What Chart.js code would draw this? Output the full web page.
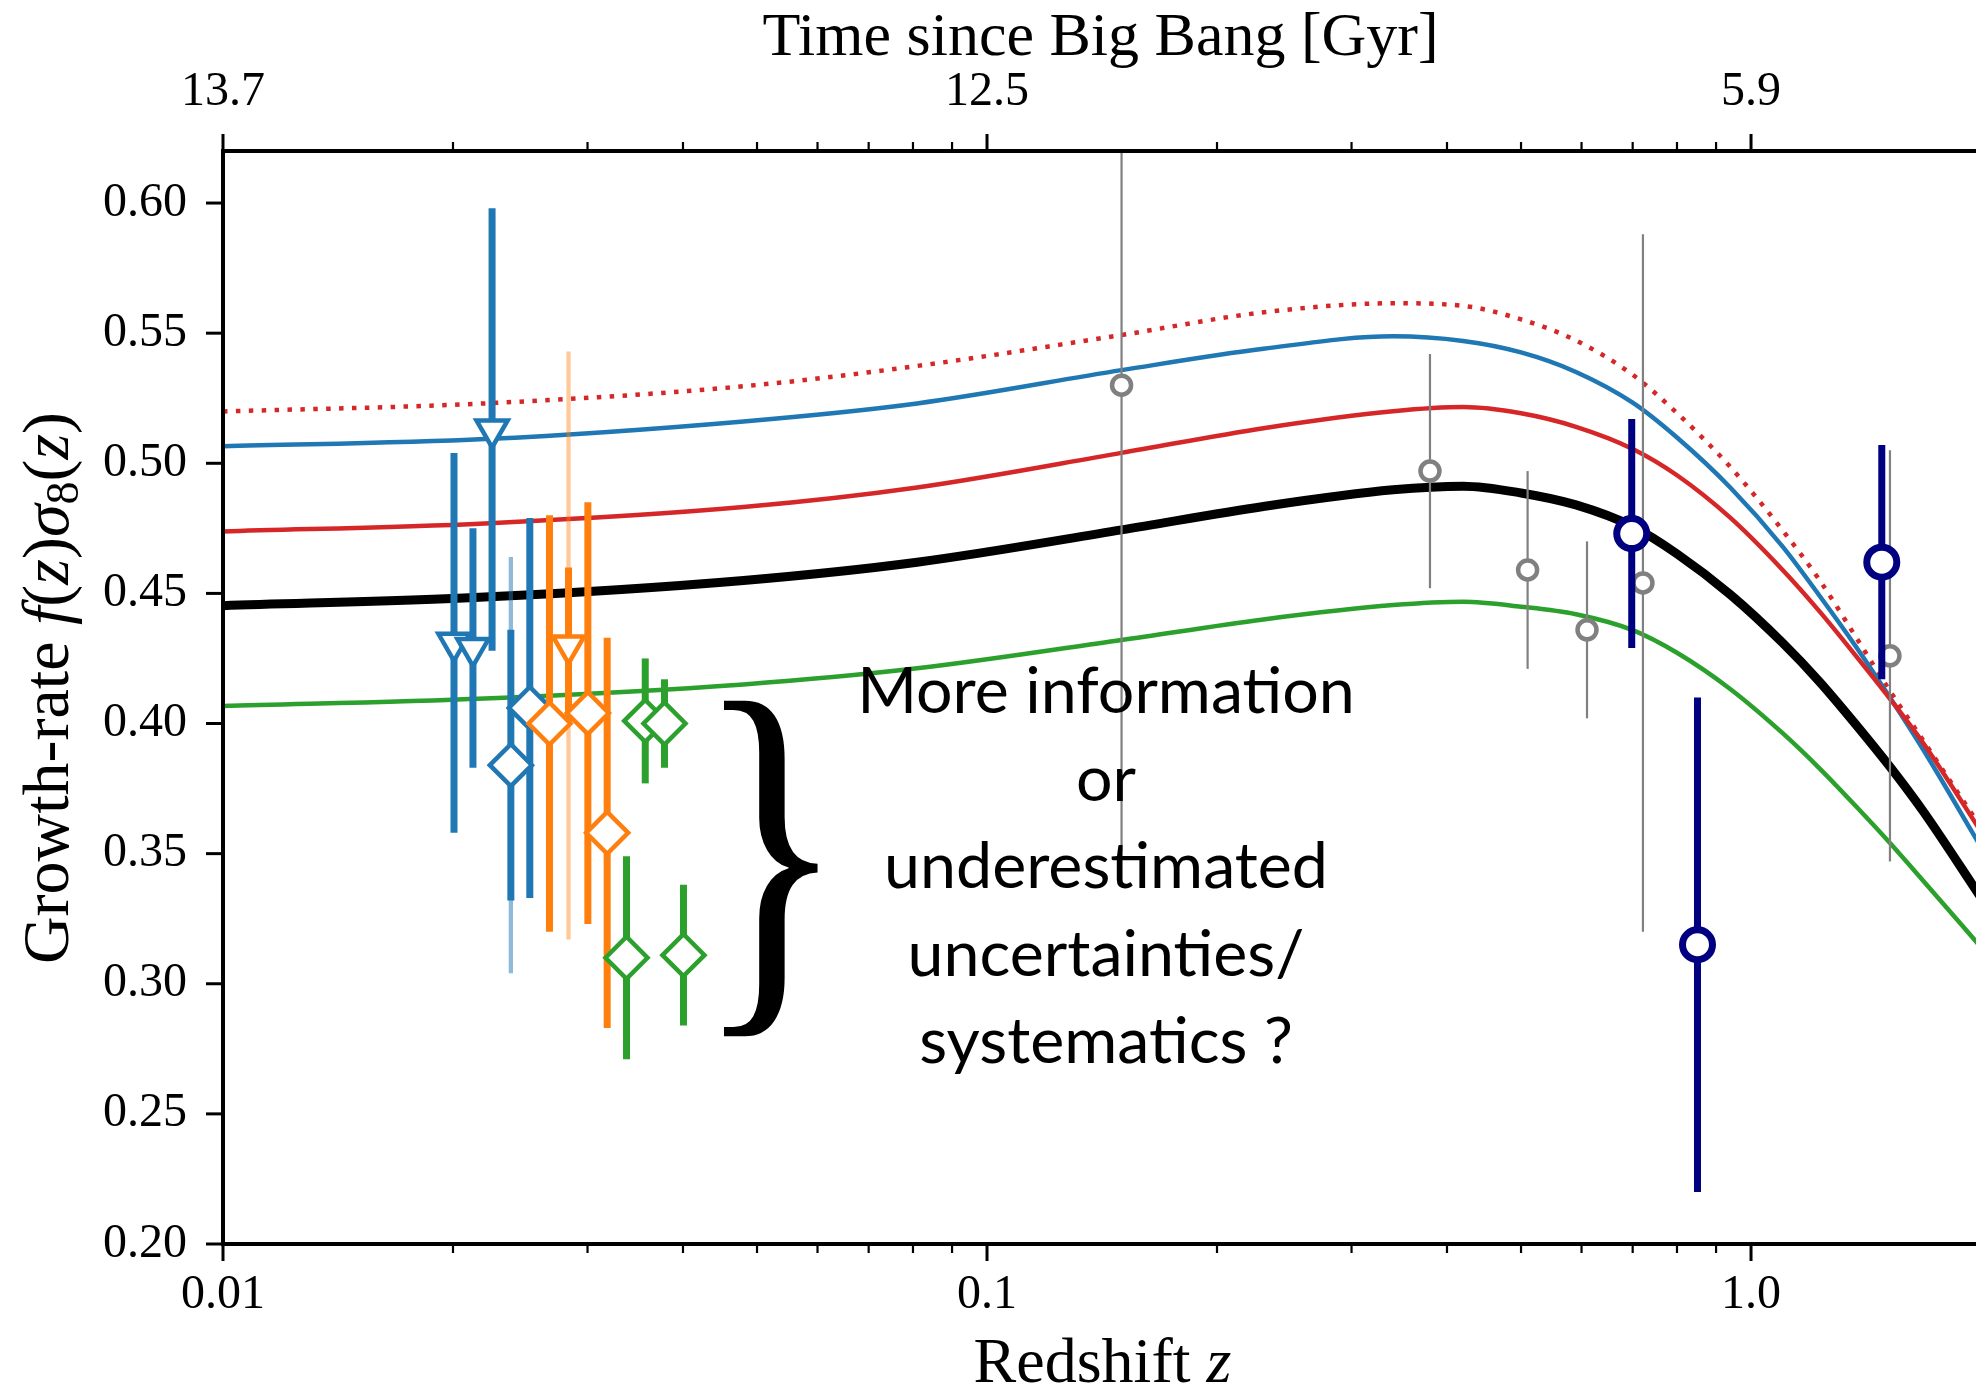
<!DOCTYPE html>
<html>
<head>
<meta charset="utf-8">
<script src="https://cdn.jsdelivr.net/npm/chart.js@4.4.1/dist/chart.umd.min.js"></script>
<style>
html,body{margin:0;padding:0;background:#fff;overflow:hidden}
#wrap{width:1976px;height:1389px;position:relative}
canvas{display:block}
</style>
</head>
<body>
<div id="wrap"><canvas id="c" width="1976" height="1389"></canvas></div>
<script>
// ---------------- data ----------------
// theory curves f(z)sigma8(z)
const zCurve      = [0.01, 0.022, 0.048, 0.081, 0.15, 0.23, 0.34, 0.42, 0.50, 0.59, 0.70, 0.80, 0.94, 1.1, 1.23, 1.37, 1.52, 1.68, 2.0];
const curveDotted = [0.5199, 0.5230, 0.5296, 0.5374, 0.5493, 0.5580, 0.5615, 0.5605, 0.5553, 0.5472, 0.5340, 0.5193, 0.4985, 0.4742, 0.4550, 0.4335, 0.4125, 0.3935, 0.3600];
const curveBlue   = [0.5065, 0.5093, 0.5161, 0.5230, 0.5358, 0.5440, 0.5488, 0.5470, 0.5426, 0.5351, 0.5233, 0.5099, 0.4906, 0.4680, 0.4490, 0.4298, 0.4100, 0.3900, 0.3525];
const curveRed    = [0.4738, 0.4769, 0.4832, 0.4907, 0.5040, 0.5135, 0.5200, 0.5216, 0.5192, 0.5140, 0.5055, 0.4954, 0.4790, 0.4590, 0.4430, 0.4262, 0.4095, 0.3925, 0.3585];
const curveBlack  = [0.4453, 0.4486, 0.4550, 0.4620, 0.4744, 0.4834, 0.4898, 0.4912, 0.4886, 0.4840, 0.4757, 0.4652, 0.4495, 0.4310, 0.4160, 0.3998, 0.3834, 0.3663, 0.3331];
const curveGreen  = [0.4067, 0.4096, 0.4150, 0.4212, 0.4321, 0.4400, 0.4455, 0.4468, 0.4449, 0.4420, 0.4359, 0.4272, 0.4132, 0.3963, 0.3827, 0.3684, 0.3541, 0.3396, 0.3140];

// measurements
const blueTriZ   = [0.02006, 0.02124, 0.0225];
const blueTriV   = [0.431, 0.429, 0.513];
const blueTriE   = [0.073, 0.046, 0.085];

const blueDiaZ   = [0.02381, 0.02521];
const blueDiaV   = [0.384, 0.406];
const blueDiaE   = [0.052, 0.073];
const blueDiaE2  = [0.080, null];

const orangeTriZ  = [0.02833];
const orangeTriV  = [0.430];
const orangeTriE  = [0.030];
const orangeTriE2 = [0.113];

const orangeDiaZ = [0.02675, 0.03003, 0.03183];
const orangeDiaV = [0.400, 0.404, 0.358];
const orangeDiaE = [0.080, 0.081, 0.075];

const greenDiaZ  = [0.03374, 0.0357, 0.03783, 0.04006];
const greenDiaV  = [0.310, 0.401, 0.400, 0.311];
const greenDiaE  = [0.039, 0.024, 0.017, 0.027];

const grayZ = [0.150, 0.380, 0.510, 0.610, 0.722, 1.520];
const grayV = [0.530, 0.497, 0.459, 0.436, 0.454, 0.426];
const grayE = [0.179, 0.045, 0.038, 0.034, 0.134, 0.079];

const navyZ = [0.698, 0.851, 1.483];
const navyV = [0.473, 0.315, 0.462];
const navyE = [0.044, 0.095, 0.045];

// ticks
const xMajor      = [0.01, 0.1, 1.0];
const xMajorLabel = ['0.01', '0.1', '1.0'];
const topLabel    = ['13.7', '12.5', '5.9'];
const xMinor      = [0.02, 0.03, 0.04, 0.05, 0.06, 0.07, 0.08, 0.09, 0.2, 0.3, 0.4, 0.5, 0.6, 0.7, 0.8, 0.9];
const yTicks      = [0.20, 0.25, 0.30, 0.35, 0.40, 0.45, 0.50, 0.55, 0.60];
const yLabels     = ['0.20', '0.25', '0.30', '0.35', '0.40', '0.45', '0.50', '0.55', '0.60'];

const annotLines = ['More information', 'or', 'underestimated', 'uncertainties/', 'systematics ?'];

// ---------------- helpers ----------------
const pts = (zs, vs) => zs.map((z, i) => ({x: z, y: vs[i]}));
const C = {blue:'#1f77b4', orange:'#ff7f0e', green:'#2ca02c', red:'#d62728', gray:'#808080', navy:'#000080'};
const SERIF = '"Liberation Serif", "Times New Roman", serif';

function curve(vals, color, width, dash, order) {
  return {type:'line', data: pts(zCurve, vals), borderColor: color, borderWidth: width,
          borderDash: dash || [], borderCapStyle: 'butt', pointRadius: 0, fill: false,
          cubicInterpolationMode: 'monotone', order: order};
}
function marks(zs, vs, es, color, style, radius, bw, errW, order, extra) {
  return Object.assign({type:'scatter', data: pts(zs, vs), errs: es, errWidth: errW,
          borderColor: color, backgroundColor: '#ffffff', pointStyle: style, pointRadius: radius,
          pointBorderWidth: bw, borderWidth: bw, order: order, clip: false}, extra || {});
}

const allXTicks = xMajor.concat(xMinor).sort((a, b) => a - b);

const errPlugin = {
  id: 'errbars',
  beforeDatasetDraw(chart, args) {
    const ds = chart.data.datasets[args.index];
    if (!ds.errs) return;
    const ctx = chart.ctx, xs = chart.scales.x, ys = chart.scales.y, ca = chart.chartArea;
    ctx.save();
    ctx.beginPath(); ctx.rect(ca.left, ca.top, ca.right - ca.left, ca.bottom - ca.top); ctx.clip();
    ctx.lineCap = 'butt';
    const drawSet = (errs, color, width) => {
      ctx.strokeStyle = color; ctx.lineWidth = width;
      ds.data.forEach((p, i) => {
        const e = errs[i];
        if (e == null) return;
        const px = xs.getPixelForValue(p.x);
        ctx.beginPath();
        ctx.moveTo(px, ys.getPixelForValue(p.y - e));
        ctx.lineTo(px, ys.getPixelForValue(p.y + e));
        ctx.stroke();
      });
    };
    if (ds.lightErrs) drawSet(ds.lightErrs, ds.lightColor, ds.lightWidth);
    drawSet(ds.errs, ds.borderColor, ds.errWidth);
    ctx.restore();
  }
};

function drawRich(ctx, segs, x, y) {
  let total = 0;
  segs.forEach(s => { ctx.font = s.f; s.w = ctx.measureText(s.t).width; total += s.w; });
  let cx = x - total / 2;
  segs.forEach(s => { ctx.font = s.f; ctx.fillText(s.t, cx, y + (s.dy || 0)); cx += s.w; });
}

const framePlugin = {
  id: 'frame',
  afterDatasetsDraw(chart) {
    const ctx = chart.ctx, ca = chart.chartArea, xs = chart.scales.x, ys = chart.scales.y;
    ctx.save();
    ctx.strokeStyle = '#000'; ctx.lineCap = 'butt';
    // spines
    ctx.lineWidth = 4;
    ctx.beginPath();
    ctx.moveTo(ca.left, ca.top - 2); ctx.lineTo(ca.left, ca.bottom + 2);
    ctx.moveTo(ca.left - 2, ca.bottom); ctx.lineTo(ca.right, ca.bottom);
    ctx.moveTo(ca.left - 2, ca.top); ctx.lineTo(ca.right, ca.top);
    ctx.stroke();
    // x ticks (bottom and top)
    const tick = (v, len, w) => {
      const px = xs.getPixelForValue(v);
      ctx.lineWidth = w;
      ctx.beginPath();
      ctx.moveTo(px, ca.bottom); ctx.lineTo(px, ca.bottom + len);
      ctx.moveTo(px, ca.top); ctx.lineTo(px, ca.top - len);
      ctx.stroke();
    };
    xMajor.forEach(v => tick(v, 17, 3));
    xMinor.forEach(v => tick(v, 9, 2.2));
    yTicks.forEach(v => {
      const py = ys.getPixelForValue(v);
      ctx.lineWidth = 3;
      ctx.beginPath(); ctx.moveTo(ca.left, py); ctx.lineTo(ca.left - 17, py); ctx.stroke();
    });
    ctx.restore();
  },
  afterDraw(chart) {
    const ctx = chart.ctx, ca = chart.chartArea;
    const midX = (ca.left + ca.right) / 2;
    ctx.save();
    ctx.fillStyle = '#000';
    ctx.textBaseline = 'alphabetic';
    // top title
    drawRich(ctx, [{t:'Time since Big Bang [Gyr]', f:'62px ' + SERIF}], midX + 1, 55);
    // bottom title
    drawRich(ctx, [{t:'Redshift ', f:'64px ' + SERIF}, {t:'z', f:'italic 64px ' + SERIF}], midX + 3, 1382);
    // y title
    ctx.save();
    ctx.translate(68, 688);
    ctx.rotate(-Math.PI / 2);
    const R = '66px ' + SERIF, I = 'italic 66px ' + SERIF, S = '46px ' + SERIF;
    drawRich(ctx, [{t:'Growth-rate ', f:R}, {t:'f', f:I}, {t:'(', f:R}, {t:'z', f:I}, {t:')', f:R},
                   {t:'σ', f:I}, {t:'8', f:S, dy:10}, {t:'(', f:R}, {t:'z', f:I}, {t:')', f:R}], 0, 0);
    ctx.restore();
    // annotation text
    ctx.font = '100px Lato';
    const w100 = ctx.measureText(annotLines[0]).width;
    const fs = 100 * 498 / w100;
    ctx.font = fs.toFixed(1) + 'px Lato';
    ctx.textAlign = 'center';
    annotLines.forEach((t, i) => ctx.fillText(t, 1106, 713 + i * 87.5));
    // big brace
    ctx.font = '300px ' + SERIF;
    ctx.textAlign = 'left';
    const m = ctx.measureText('}');
    const gw = m.actualBoundingBoxLeft + m.actualBoundingBoxRight;
    const gh = m.actualBoundingBoxAscent + m.actualBoundingBoxDescent;
    ctx.translate(720, 697);
    ctx.scale(98 / gw, 342 / gh);
    ctx.fillText('}', m.actualBoundingBoxLeft, m.actualBoundingBoxAscent);
    ctx.restore();
  }
};

const noPad = s => { s.paddingLeft = 0; s.paddingRight = 0; };

const datasets = [
  marks(greenDiaZ, greenDiaV, greenDiaE, C.green, 'rectRot', 21, 4.5, 7, 1),
  marks(orangeDiaZ, orangeDiaV, orangeDiaE, C.orange, 'rectRot', 21, 4.5, 7, 2),
  marks(orangeTriZ, orangeTriV, orangeTriE, C.orange, 'triangle', 18, 4.5, 7, 3,
        {pointRotation: 180, lightErrs: orangeTriE2, lightColor: 'rgba(255,127,14,0.42)', lightWidth: 4.3}),
  marks(blueDiaZ, blueDiaV, blueDiaE, C.blue, 'rectRot', 21, 4.5, 7, 4,
        {lightErrs: blueDiaE2, lightColor: 'rgba(31,119,180,0.5)', lightWidth: 4.3}),
  marks(blueTriZ, blueTriV, blueTriE, C.blue, 'triangle', 18, 4.5, 7, 5, {pointRotation: 180}),
  marks(navyZ, navyV, navyE, C.navy, 'circle', 15, 7, 7, 6),
  marks(grayZ, grayV, grayE, C.gray, 'circle', 9.5, 4.5, 2.2, 7),
  curve(curveBlack, '#000000', 9, null, 8),
  curve(curveGreen, C.green, 4.5, null, 9),
  curve(curveRed, C.red, 4.5, null, 10),
  curve(curveBlue, C.blue, 4.5, null, 11),
  curve(curveDotted, C.red, 4.5, [4.5, 8.4], 12)
];

new Chart(document.getElementById('c'), {
  data: {datasets},
  options: {
    responsive: false, animation: false, devicePixelRatio: 1, events: [],
    layout: {padding: 0, autoPadding: false},
    plugins: {legend: {display: false}, tooltip: {enabled: false}},
    scales: {
      x: {
        type: 'logarithmic', position: 'bottom', min: 0.01, max: 1.97,
        afterFit: s => { s.height = 145; noPad(s); },
        afterBuildTicks: s => { s.ticks = allXTicks.map(v => ({value: v})); },
        grid: {display: false, drawTicks: false}, border: {display: false},
        ticks: {autoSkip: false, maxRotation: 0, minRotation: 0, color: '#000', padding: 0,
                font: {family: SERIF, size: 48, lineHeight: '103.6px'},
                callback: v => { const i = xMajor.indexOf(v); return i >= 0 ? xMajorLabel[i] : ''; }}
      },
      x2: {
        type: 'logarithmic', position: 'top', min: 0.01, max: 1.97,
        afterFit: s => { s.height = 151; noPad(s); },
        afterBuildTicks: s => { s.ticks = allXTicks.map(v => ({value: v})); },
        grid: {display: false, drawTicks: false}, border: {display: false},
        ticks: {autoSkip: false, maxRotation: 0, minRotation: 0, color: '#000', padding: 0,
                font: {family: SERIF, size: 48, lineHeight: '117.6px'},
                callback: v => { const i = xMajor.indexOf(v); return i >= 0 ? topLabel[i] : ''; }}
      },
      y: {
        type: 'linear', position: 'left', min: 0.20, max: 0.62,
        afterFit: s => { s.width = 223; },
        afterBuildTicks: s => { s.ticks = yTicks.map(v => ({value: v})); },
        grid: {display: false, drawTicks: false}, border: {display: false},
        ticks: {color: '#000', font: {family: SERIF, size: 48}, padding: 36,
                callback: v => { const i = yTicks.findIndex(t => Math.abs(t - v) < 1e-9); return i >= 0 ? yLabels[i] : ''; }}
      }
    }
  },
  plugins: [errPlugin, framePlugin]
});
</script>
</body>
</html>
